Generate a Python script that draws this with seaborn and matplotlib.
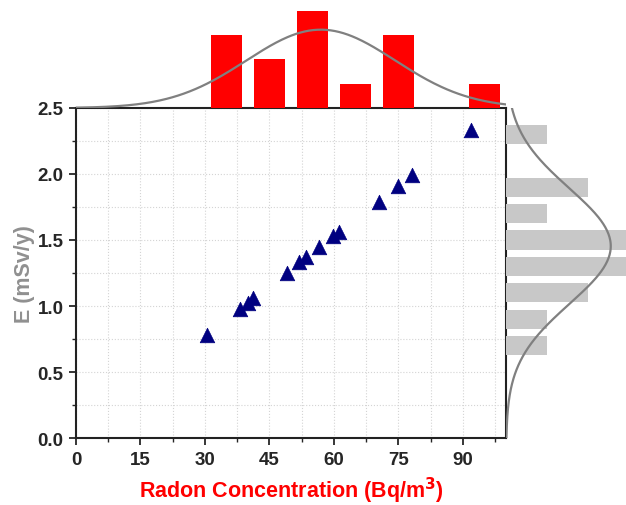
import numpy as np
import matplotlib
matplotlib.use("Agg")
import matplotlib.pyplot as plt
import seaborn as sns
from matplotlib.ticker import MultipleLocator

# Radon concentration (Bq/m3) and annual effective dose E (mSv/y)
radon = [30.5, 38.1, 39.9, 41.2, 49.0, 51.9, 53.6, 56.6, 59.7, 61.2, 70.4, 75.0, 78.1, 91.9]
dose = [0.78, 0.98, 1.02, 1.06, 1.25, 1.33, 1.37, 1.45, 1.53, 1.56, 1.79, 1.91, 1.99, 2.33]

x_ticks = [0, 15, 30, 45, 60, 75, 90]
y_ticks = [0.0, 0.5, 1.0, 1.5, 2.0, 2.5]
x_bins = [30, 40, 50, 60, 70, 80, 90, 100]
y_bins = [0.6, 0.8, 1.0, 1.2, 1.4, 1.6, 1.8, 2.0, 2.2, 2.4]

sns.set_style("white")
plt.rcParams['font.family'] = ['Liberation Sans', 'DejaVu Sans']

fig = plt.figure(figsize=(6.26, 5.06), dpi=100)
ax = fig.add_axes([0.1214, 0.1324, 0.6869, 0.6522])
ax_top = fig.add_axes([0.1214, 0.7846, 0.6869, 0.2154], sharex=ax)
ax_right = fig.add_axes([0.8083, 0.1324, 0.1917, 0.6522], sharey=ax)

# main scatter
ax.grid(True, which='both', color='#d4d4d4', linestyle=':', linewidth=0.8)
ax.set_axisbelow(True)
sns.scatterplot(x=radon, y=dose, ax=ax, marker='^', s=110, color='#000080',
                edgecolor='#000080', linewidth=0.5, zorder=3)
ax.set_xlim(0, 100)
ax.set_ylim(0, 2.5)
ax.set_xticks(x_ticks)
ax.set_yticks(y_ticks)
ax.set_yticklabels([f'{v:.1f}' for v in y_ticks])
ax.xaxis.set_minor_locator(MultipleLocator(7.5))
ax.yaxis.set_minor_locator(MultipleLocator(0.25))
ax.tick_params(which='major', direction='out', length=5, width=1.3, labelsize=13.5, pad=4)
ax.tick_params(which='minor', direction='out', length=3, width=1.0)
ax.tick_params(axis='both', which='both', bottom=True, left=True, top=False, right=False)
for lab in ax.get_xticklabels() + ax.get_yticklabels():
    lab.set_fontweight('bold')
for sp in ax.spines.values():
    sp.set_color('#222222')
    sp.set_linewidth(1.5)
ax.set_xlabel('Radon Concentration (Bq/m$^\\mathbf{3}$)', color='red', fontsize=15.5,
              fontweight='bold', labelpad=5)
ax.set_ylabel('E (mSv/y)', color='#909090', fontsize=15.5, fontweight='bold', labelpad=2)

# top marginal histogram with normal curve
sns.histplot(x=radon, bins=x_bins, ax=ax_top, color='red', alpha=1, shrink=0.73,
             edgecolor='none', linewidth=0)
mx, sx = np.mean(radon), np.std(radon, ddof=1)
xs = np.linspace(0, 100, 300)
cx = len(radon) * 10 / (sx * np.sqrt(2 * np.pi)) * np.exp(-0.5 * ((xs - mx) / sx) ** 2)
sns.lineplot(x=xs, y=cx, ax=ax_top, color='#808080', linewidth=1.6)
ax_top.set_ylim(0, 4.49)
ax_top.axis('off')

# right marginal histogram with normal curve
sns.histplot(y=dose, bins=y_bins, ax=ax_right, color='#c8c8c8', alpha=1, shrink=0.72,
             edgecolor='none', linewidth=0)
my, sy = np.mean(dose), np.std(dose, ddof=1)
ys = np.linspace(0, 2.5, 300)
cy = len(dose) * 0.2 / (sy * np.sqrt(2 * np.pi)) * np.exp(-0.5 * ((ys - my) / sy) ** 2)
ax_right.plot(cy, ys, color='#808080', linewidth=1.6)
ax_right.set_xlim(0, 2.93)
ax_right.axis('off')

fig.savefig('out.png', dpi=100)
